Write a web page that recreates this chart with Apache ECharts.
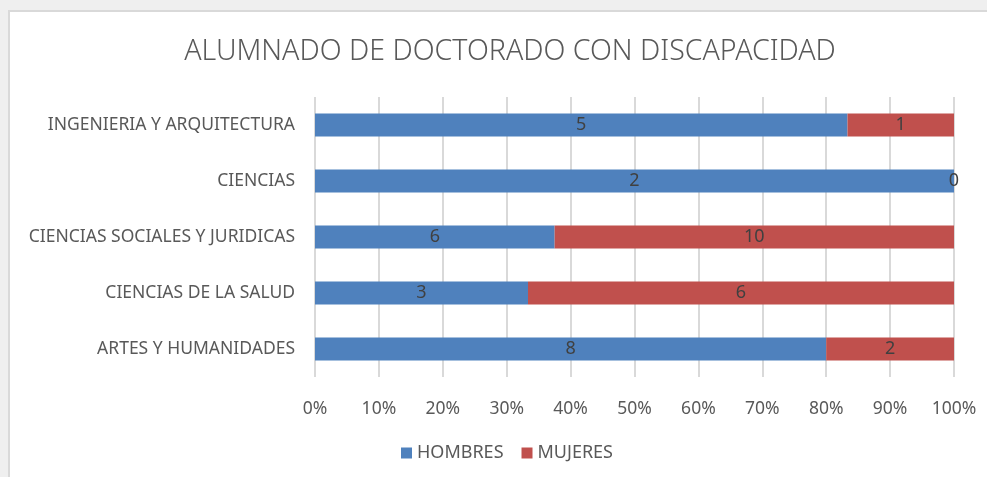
<!DOCTYPE html>
<html>
<head>
<meta charset="utf-8">
<script src="https://cdn.jsdelivr.net/npm/echarts@6/dist/echarts.min.js"></script>
<style>
  html, body { margin: 0; padding: 0; background: #efefef; }
  #frame { position: absolute; left: 8px; top: 10px; width: 990px; height: 480px;
           background: #fff; border-left: 2px solid #d9d9d9; border-top: 2px solid #d9d9d9; }
  #chart { position: absolute; left: 0; top: 0; width: 987px; height: 477px; }
</style>
</head>
<body>
<div id="frame"></div>
<div id="chart"></div>
<script>
  // categorias, de abajo a arriba (eje de categorias)
  var categorias = ["ARTES Y HUMANIDADES", "CIENCIAS DE LA SALUD", "CIENCIAS SOCIALES Y JURIDICAS", "CIENCIAS", "INGENIERIA Y ARQUITECTURA"];
  var hombres = [8, 3, 6, 2, 5];
  var mujeres = [2, 6, 10, 0, 1];
  var ticksPct = [0, 10, 20, 30, 40, 50, 60, 70, 80, 90, 100];

  var font = "Noto Sans";
  var txt = "#595959";

  function pct(arr) {
    return arr.map(function (v, i) { return v / (hombres[i] + mujeres[i]) * 100; });
  }

  function serie(name, raw, color) {
    return {
      name: name,
      type: "bar",
      stack: "total",
      barWidth: 23,
      data: pct(raw),
      itemStyle: { color: color },
      label: {
        show: true,
        position: "inside",
        color: "#404040",
        fontFamily: font,
        fontSize: 18,
        formatter: function (p) { return raw[p.dataIndex]; }
      }
    };
  }

  var myChart = echarts.init(document.getElementById("chart"));
  var option = {
    backgroundColor: "transparent",
    animation: false,
    title: {
      text: "ALUMNADO DE DOCTORADO CON DISCAPACIDAD",
      left: 505,
      textAlign: "center",
      top: 32,
      textStyle: { color: txt, fontFamily: font, fontSize: 28.5, fontWeight: 300 }
    },
    legend: {
      bottom: 10,
      left: 396,
      itemWidth: 11,
      itemHeight: 11,
      itemGap: 18,
      icon: "rect",
      textStyle: { color: txt, fontFamily: font, fontSize: 18 },
      data: ["HOMBRES", "MUJERES"]
    },
    grid: { left: 315, right: 33, top: 97, bottom: 100 },
    xAxis: {
      type: "value",
      min: 0,
      max: 100,
      interval: 10,
      axisLine: { show: false },
      axisTick: { show: false },
      splitLine: { lineStyle: { color: "#d9d9d9", width: 2 } },
      axisLabel: {
        color: txt, fontFamily: font, fontSize: 17.5, margin: 23,
        formatter: function (v) { return ticksPct.indexOf(v) >= 0 ? v + "%" : ""; }
      }
    },
    yAxis: {
      type: "category",
      data: categorias,
      axisLine: { show: false },
      axisTick: { show: false },
      axisLabel: { color: txt, fontFamily: font, fontSize: 17.5, margin: 20 }
    },
    series: [
      serie("HOMBRES", hombres, "#4f81bd"),
      serie("MUJERES", mujeres, "#c0504d")
    ]
  };
  myChart.setOption(option);
</script>
</body>
</html>
